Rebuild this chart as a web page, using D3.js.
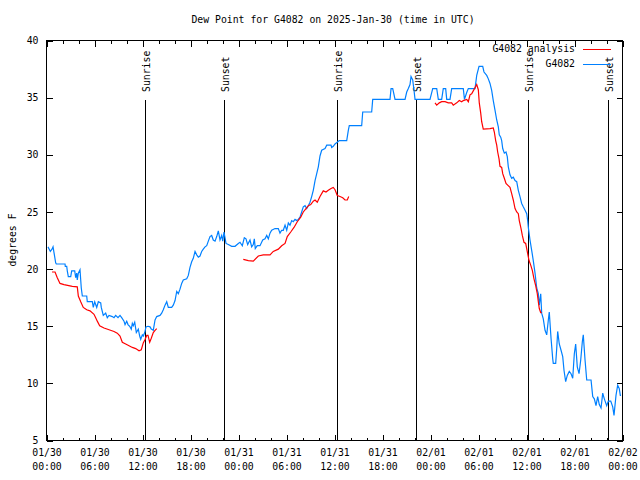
<!DOCTYPE html>
<html>
<head>
<meta charset="utf-8">
<script src="https://cdn.jsdelivr.net/npm/d3@7/dist/d3.min.js"></script>
<style>
  html, body { margin: 0; padding: 0; background: #fff; }
  svg { display: block; }
  text { font-family: "DejaVu Sans Mono", "Liberation Mono", monospace; font-size: 9.8px; fill: #000; }
</style>
</head>
<body>
<svg id="chart" width="640" height="480"></svg>
<script>
// ---------- DATA (hours since 2025-01-30 00:00 UTC) ----------
const titleText = "Dew Point for G4082 on 2025-Jan-30 (time in UTC)";
const yLabel = "degrees F";
const seriesNames = ["G4082 analysis", "G4082"];
const yTicks = [5, 10, 15, 20, 25, 30, 35, 40];
const xTickDates = ["01/30","01/30","01/30","01/30","01/31","01/31","01/31","01/31","02/01","02/01","02/01","02/01","02/02"];
const xTickTimes = ["00:00","06:00","12:00","18:00","00:00","06:00","12:00","18:00","00:00","06:00","12:00","18:00","00:00"];

const sunEventHours = [12.4, 22.29, 36.42, 46.25, 60.29, 70.29];
const sunEventNames = ["Sunrise", "Sunset", "Sunrise", "Sunset", "Sunrise", "Sunset"];

// Observations (blue)
const obsHours = [0.25,0.54,0.75,0.88,1.0,1.21,1.29,2.38,2.41,2.59,2.66,2.79,3.09,3.21,3.59,3.71,3.84,3.91,4.04,4.25,4.41,4.54,5.09,5.16,5.79,5.91,6.09,6.34,6.54,6.84,6.91,7.16,7.46,7.66,7.88,8.29,8.5,8.71,9.0,9.25,9.46,9.75,9.88,10.09,10.25,10.46,10.66,10.79,10.91,11.09,11.29,11.54,11.71,11.84,12.04,12.16,12.34,12.5,12.75,13.0,13.16,13.41,13.63,13.84,14.25,14.46,14.66,14.88,15.09,15.29,15.71,15.91,16.13,16.34,16.54,16.75,16.96,17.16,17.59,17.79,18.0,18.21,18.41,18.63,18.84,19.04,19.25,19.46,19.66,19.88,20.09,20.29,20.5,20.71,20.91,21.13,21.34,21.54,21.75,21.96,22.09,22.25,22.5,22.79,23.21,23.63,24.04,24.25,24.54,24.79,25.0,25.21,25.5,25.71,25.91,26.04,26.16,26.41,26.75,27.09,27.38,27.59,27.79,28.0,28.21,28.63,29.04,29.25,29.46,29.66,29.88,30.09,30.29,30.5,30.71,30.91,31.13,31.34,31.54,31.75,31.96,32.16,32.38,32.59,32.79,33.0,33.21,33.41,33.63,33.84,34.04,34.25,34.46,34.88,35.09,35.63,35.71,35.91,36.13,36.66,37.59,37.79,37.91,39.46,39.59,40.71,40.84,43.0,43.13,43.34,43.63,44.88,45.09,45.29,45.5,45.63,45.84,46.0,46.13,48.0,48.34,48.84,49.04,49.46,49.66,49.96,50.09,50.5,50.71,52.16,52.31,52.59,52.79,53.63,53.84,54.13,54.59,54.75,55.09,55.29,55.5,55.71,55.91,56.13,56.34,56.54,56.66,56.84,56.96,57.09,57.29,57.5,57.66,57.79,58.0,58.21,58.41,58.63,58.84,59.04,59.25,59.46,59.66,59.88,60.09,60.21,60.29,60.5,60.71,60.91,61.13,61.34,61.54,61.66,61.84,61.96,62.16,62.38,62.59,62.79,62.91,63.13,63.34,63.41,63.71,63.84,63.96,64.16,64.38,64.59,64.75,64.96,65.16,65.41,65.63,65.84,66.04,66.21,66.41,66.63,66.84,67.04,67.16,67.38,67.59,68.13,68.34,68.54,68.75,68.96,69.16,69.38,69.59,69.79,70.09,70.29,70.59,70.84,71.0,71.25,71.46,71.66,71.79,71.88];
const obsValues = [21.9,21.5,21.7,21.9,21.4,20.5,20.4,20.4,20.2,20.2,19.8,19.3,19.3,19.8,19.8,19.2,19.6,19.0,19.6,19.9,18.3,17.6,17.6,17.1,17.1,16.6,17.1,16.6,17.1,17.0,16.6,15.9,16.1,15.7,15.9,15.8,15.7,15.9,15.7,15.9,15.7,15.4,15.1,15.4,15.1,14.95,14.7,15.2,15.0,15.3,14.4,14.7,14.1,13.8,14.2,14.1,14.4,14.9,14.95,14.9,14.7,14.6,15.5,15.8,15.9,16.1,16.4,16.8,17.1,16.6,16.6,16.8,17.2,18.0,17.8,18.2,18.7,19.0,19.1,19.4,20.1,20.6,20.9,21.5,21.2,21.0,21.1,21.5,21.7,21.9,22.0,22.4,22.8,22.9,22.5,22.4,22.8,23.3,22.5,22.9,22.4,23.2,22.2,22.1,21.95,21.95,22.2,22.3,22.0,22.7,22.6,22.1,22.5,21.9,22.1,22.6,21.75,22.0,22.0,22.5,22.6,22.9,22.6,23.1,23.35,23.5,23.5,23.1,23.35,23.35,23.8,23.35,24.0,23.8,24.2,24.1,24.3,24.2,24.3,24.5,24.95,25.4,25.5,25.25,25.5,25.8,26.3,26.85,27.7,28.3,28.9,29.85,30.35,30.5,30.8,30.8,30.6,30.7,30.9,31.2,31.2,32.1,32.5,32.5,33.7,33.7,34.8,34.8,35.75,35.75,34.8,34.8,35.45,35.75,36.1,36.8,36.5,35.6,34.8,34.8,35.75,35.75,34.8,34.8,35.75,35.75,34.8,34.8,35.75,35.75,34.8,35.4,35.75,35.75,36.9,37.7,37.7,37.2,36.9,36.6,36.2,35.6,34.7,33.85,33.0,32.4,31.7,31.5,31.2,30.5,30.1,30.2,29.8,28.9,28.2,27.9,28.0,27.7,27.6,26.85,26.3,25.7,25.4,25.1,24.8,24.2,23.6,22.5,21.6,20.7,19.6,18.3,17.8,16.8,17.8,16.1,15.6,14.6,14.2,15.5,16.2,13.9,12.1,11.7,11.7,13.0,14.5,13.4,12.85,12.3,11.1,10.1,10.65,11.0,10.8,10.4,12.55,13.4,11.4,10.8,12.0,13.6,14.2,12.0,10.25,10.25,8.8,8.6,8.0,8.8,8.1,7.8,9.1,8.6,8.0,8.4,8.4,7.9,7.15,8.9,9.8,9.5,8.9,8.9];

// Analysis (red), three separate segments
const anaHours1 = [0.75,1.13,1.41,1.75,2.25,3.29,3.91,4.04,4.34,4.66,5.09,5.5,6.0,6.21,6.41,6.71,7.25,7.88,8.5,8.91,9.25,9.54,9.96,10.38,10.79,11.21,11.63,11.91,12.16,12.38,12.59,12.75,12.96,13.16,13.41,13.63,13.84];
const anaValues1 = [19.7,19.7,19.2,18.7,18.6,18.45,18.4,17.6,17.1,16.6,16.4,16.3,16.0,15.7,15.4,15.0,14.8,14.65,14.5,14.35,14.1,13.55,13.4,13.25,13.1,13.0,12.8,12.9,13.5,13.8,14.15,14.15,13.55,13.9,14.4,14.6,14.75];
const anaHours2 = [24.66,25.29,25.91,26.54,27.16,28.0,28.41,29.04,29.46,29.88,30.16,30.59,31.0,31.41,31.84,32.16,32.5,32.79,33.09,33.41,33.63,33.91,34.25,34.66,35.0,35.29,35.63,35.91,36.13,36.41,36.75,37.09,37.38,37.66,37.84];
const anaValues2 = [20.8,20.7,20.65,21.1,21.2,21.2,21.5,21.7,22.0,22.2,22.8,23.2,23.6,24.1,24.5,24.95,25.25,25.5,25.6,25.9,26.0,25.8,26.3,26.8,26.7,26.85,27.0,27.1,26.9,26.4,26.3,26.2,26.0,26.0,26.3];
const anaHours3 = [48.63,48.84,49.16,49.46,49.88,50.29,50.71,50.91,51.34,51.66,51.96,52.16,52.59,52.79,53.0,53.21,53.41,53.84,54.04,54.16,54.34,54.46,54.66,55.5,55.91,56.04,56.21,56.34,56.46,56.63,56.75,56.96,57.09,57.29,57.5,57.71,58.0,58.21,58.41,58.63,58.84,59.04,59.16,59.38,59.54,59.75,59.96,60.09,60.21,60.38,60.59,60.79,61.0,61.21,61.41,61.54,61.66,61.84,61.96];
const anaValues3 = [34.5,34.3,34.5,34.6,34.6,34.5,34.5,34.3,34.5,34.7,34.6,34.7,34.8,34.6,35.2,35.3,35.55,36.1,35.65,34.5,33.6,32.85,32.2,32.25,32.3,31.95,31.2,30.8,30.2,29.6,28.95,28.85,28.3,27.9,27.45,27.3,27.1,26.55,26.0,25.25,24.95,24.8,24.2,23.5,22.9,22.3,22.2,21.75,21.3,20.7,20.3,19.85,19.1,18.5,17.8,17.1,16.5,16.15,16.15];

// ---------- CHART ----------
const svg = d3.select("#chart");
const m = { left: 46, right: 622, top: 40, bottom: 440 };
const t0 = Date.UTC(2025, 0, 30);
const hr = h => new Date(t0 + h * 3600 * 1000);

const x = d3.scaleUtc().domain([hr(0), hr(72)]).range([m.left, m.right]);
const y = d3.scaleLinear().domain([5, 40]).range([m.bottom, m.top]);

const blue = "#0080ff", red = "#ff0000";

// title
svg.append("text").attr("x", 333).attr("y", 23).attr("text-anchor", "middle").text(titleText);

// y label
svg.append("text").attr("transform", "translate(13,240) rotate(-90)")
  .attr("text-anchor", "middle").attr("dominant-baseline", "middle").text(yLabel);

const majorHours = d3.range(0, 73, 6).map(hr);
const minorHours = d3.range(0, 73, 2).filter(h => h % 6 !== 0).map(hr);

function strip(g) {
  g.select(".domain").remove();
  g.selectAll("line").attr("stroke", "#000").attr("shape-rendering", "crispEdges");
  g.attr("font-family", null).attr("font-size", null);
}

// bottom major ticks with two-line labels
const gB = svg.append("g").attr("transform", `translate(0.5,${m.bottom + 0.5})`)
  .call(d3.axisBottom(x).tickValues(majorHours).tickSizeInner(-6).tickSizeOuter(0).tickPadding(9).tickFormat(""));
strip(gB);
gB.selectAll(".tick").each(function(d, i) {
  const t = d3.select(this).select("text");
  t.text(null).attr("fill", "#000").attr("dy", null);
  t.append("tspan").attr("x", 0).attr("y", 15).text(xTickDates[i]);
  t.append("tspan").attr("x", 0).attr("y", 29).text(xTickTimes[i]);
});

const gBm = svg.append("g").attr("transform", `translate(0.5,${m.bottom + 0.5})`)
  .call(d3.axisBottom(x).tickValues(minorHours).tickSizeInner(-3).tickSizeOuter(0).tickFormat(""));
strip(gBm);

// top ticks
const gT = svg.append("g").attr("transform", `translate(0.5,${m.top + 0.5})`)
  .call(d3.axisTop(x).tickValues(majorHours).tickSizeInner(-6).tickSizeOuter(0).tickFormat(""));
strip(gT);
const gTm = svg.append("g").attr("transform", `translate(0.5,${m.top + 0.5})`)
  .call(d3.axisTop(x).tickValues(minorHours).tickSizeInner(-3).tickSizeOuter(0).tickFormat(""));
strip(gTm);

// left axis
const gL = svg.append("g").attr("transform", `translate(${m.left + 0.5},0.5)`)
  .call(d3.axisLeft(y).tickValues(yTicks).tickSizeInner(-6).tickSizeOuter(0).tickPadding(8).tickFormat(d3.format("d")));
strip(gL);
gL.selectAll("text").attr("fill", "#000");

// right axis
const gR = svg.append("g").attr("transform", `translate(${m.right + 0.5},0.5)`)
  .call(d3.axisRight(y).tickValues(yTicks).tickSizeInner(-6).tickSizeOuter(0).tickFormat(""));
strip(gR);

// frame
svg.append("rect").attr("x", m.left + 0.5).attr("y", m.top + 0.5)
  .attr("width", m.right - m.left).attr("height", m.bottom - m.top)
  .attr("fill", "none").attr("stroke", "#000").attr("shape-rendering", "crispEdges");

// sunrise / sunset lines
const lineTopFrac = 0.85, labelFrac = 0.87;
const yFrac = f => m.bottom - f * (m.bottom - m.top);
sunEventHours.forEach((h, i) => {
  const xp = Math.round(x(hr(h))) + 0.5;
  svg.append("line").attr("x1", xp).attr("x2", xp)
    .attr("y1", m.bottom).attr("y2", yFrac(lineTopFrac))
    .attr("stroke", "#000").attr("stroke-width", 1).attr("shape-rendering", "crispEdges");
  svg.append("text").attr("transform", `translate(${xp + 1},${yFrac(labelFrac)}) rotate(-90)`)
    .attr("text-anchor", "start").attr("dominant-baseline", "middle").text(sunEventNames[i]);
});

// series lines
const line = d3.line().x(d => x(hr(d[0]))).y(d => y(d[1]));
const zip = (a, b) => a.map((v, i) => [v, b[i]]);

svg.append("path").datum(zip(obsHours, obsValues))
  .attr("d", line).attr("fill", "none").attr("stroke", blue).attr("stroke-width", 1.2);

[[anaHours1, anaValues1], [anaHours2, anaValues2], [anaHours3, anaValues3]].forEach(([h, v]) => {
  svg.append("path").datum(zip(h, v))
    .attr("d", line).attr("fill", "none").attr("stroke", red).attr("stroke-width", 1.2);
});

// legend
const legendColors = [red, blue];
seriesNames.forEach((n, i) => {
  const ly = 49 + i * 15;
  svg.append("text").attr("x", 575).attr("y", ly).attr("text-anchor", "end")
    .attr("dominant-baseline", "middle").text(n);
  svg.append("line").attr("x1", 583).attr("x2", 611).attr("y1", ly + 0.5).attr("y2", ly + 0.5)
    .attr("stroke", legendColors[i]).attr("stroke-width", 1).attr("shape-rendering", "crispEdges");
});
</script>
</body>
</html>
